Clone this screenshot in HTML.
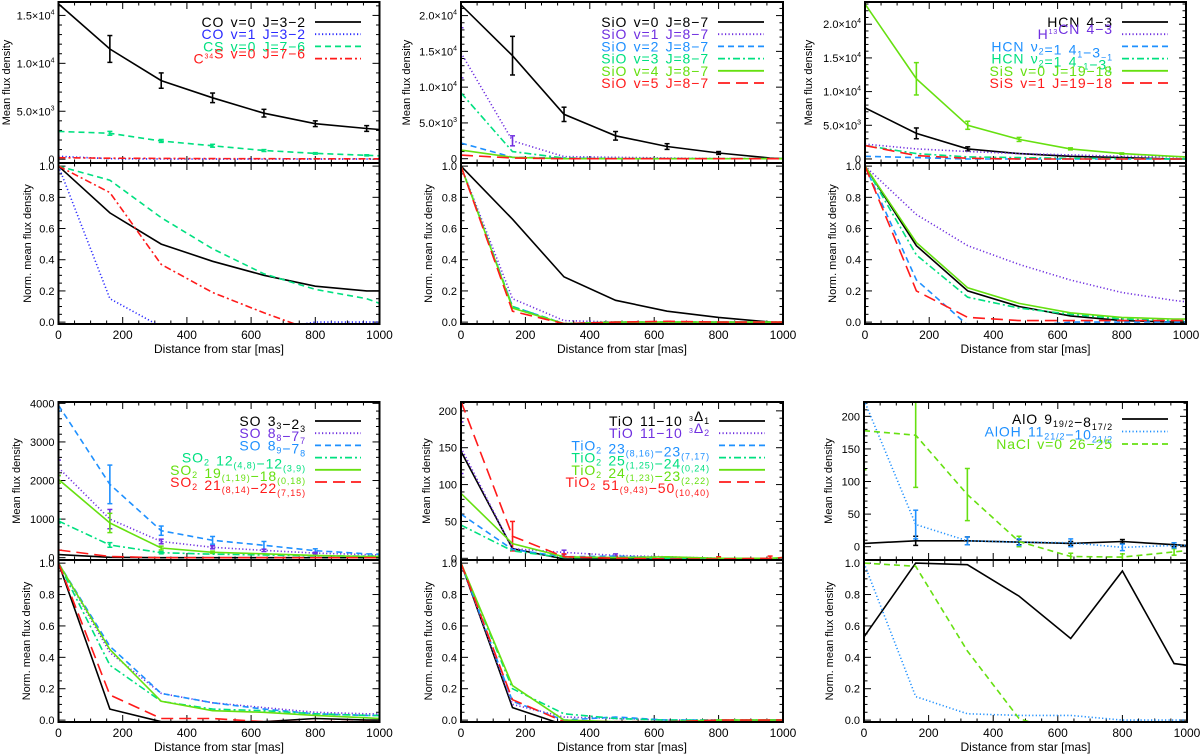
<!DOCTYPE html>
<html><head><meta charset="utf-8"><style>
html,body{margin:0;padding:0;background:#fff;}
svg{display:block;font-family:"Liberation Sans",sans-serif;}
.leg{letter-spacing:0.9px;word-spacing:1.5px;}
</style></head><body>
<svg id="fig" width="1200" height="754" viewBox="0 0 1200 754" xmlns="http://www.w3.org/2000/svg"></svg>
<script>
const xs = [0,160,320,480,640,800,960,1000];
// ---- Panel 1 (CO / CS) ----
const p1TopBlack=[16200,11500,8200,6400,4800,3700,3200,3100];
const p1TopBlackErr=[0,1400,800,500,400,300,300,0];
const p1TopBlue=[300,50,20,10,10,10,10,10];
const p1TopGreen=[2900,2700,1900,1400,900,600,400,350];
const p1TopGreenErr=[0,200,150,150,100,80,60,0];
const p1TopRed=[150,100,80,60,50,40,40,40];
const p1BotBlack=[1,0.7,0.5,0.39,0.3,0.23,0.2,0.2];
const p1BotBlue=[1,0.15,-0.03,-0.05,-0.05,0,0,0];
const p1BotGreen=[1,0.91,0.67,0.47,0.31,0.21,0.15,0.12];
const p1BotRed=[1,0.83,0.37,0.19,0.06,-0.06,-0.1,-0.1];
// ---- Panel 2 (SiO) ----
const p2TopBlack=[21500,14400,6200,3200,1700,800,100,0];
const p2TopBlackErr=[0,2700,1000,600,400,200,0,0];
const p2TopPurple=[14800,2500,300,200,100,0,0,0];
const p2TopPurpleErr=[3500,700,0,0,0,0,0,0];
const p2TopBlue=[2200,200,100,0,0,0,0,0];
const p2TopTeal=[9200,1000,100,0,0,0,0,0];
const p2TopGreen=[1200,200,0,0,0,0,0,0];
const p2TopRed=[500,100,0,0,0,0,0,0];
const p2BotBlack=[1,0.66,0.29,0.14,0.07,0.03,0.0,-0.01];
const p2BotPurple=[1,0.15,0.01,0,0,0,0,0];
const p2BotBlue=[1,0.1,-0.01,0,0,0,0,0];
const p2BotTeal=[1,0.1,-0.01,0,0,0,0,0];
const p2BotGreen=[1,0.09,-0.01,0,0,0,0,0];
const p2BotRed=[1,0.07,-0.01,0,0.005,0,0,0];
// ---- Panel 3 (HCN / SiS) ----
const p3TopBlack=[7600,3800,1500,800,400,200,0,0];
const p3TopBlackErr=[0,800,300,0,0,0,0,0];
const p3TopPurple=[2200,1500,1100,800,600,400,300,300];
const p3TopBlue=[400,200,0,0,0,0,0,0];
const p3TopTeal=[2000,800,300,200,100,50,0,0];
const p3TopGreen=[23000,11900,5000,2900,1500,800,400,300];
const p3TopGreenErr=[0,2400,600,300,150,100,0,0];
const p3TopRed=[2000,500,100,0,0,0,0,0];
const p3BotBlack=[1,0.49,0.2,0.1,0.04,0.01,0.0,0];
const p3BotPurple=[1,0.69,0.49,0.37,0.27,0.19,0.14,0.13];
const p3BotBlue=[1,0.27,-0.02,-0.03,0,0,0,0];
const p3BotTeal=[1,0.43,0.16,0.09,0.05,0.02,0.01,0.01];
const p3BotGreen=[1,0.51,0.22,0.12,0.06,0.03,0.02,0.02];
const p3BotRed=[1,0.2,0.03,0.01,0.01,0.01,0.01,0.01];
// ---- Panel 4 (SO / SO2) ----
const p4TopBlack=[80,10,0,0,0,0,0,0];
const p4TopPurple=[2330,1000,420,270,190,120,80,70];
const p4TopPurpleErr=[200,250,60,40,30,20,0,0];
const p4TopBlue=[3950,1900,700,450,320,180,100,90];
const p4TopBlueErr=[150,500,120,100,100,50,0,0];
const p4TopTeal=[950,330,130,90,70,50,40,40];
const p4TopTealErr=[50,60,30,0,0,0,0,0];
const p4TopGreen=[2030,900,250,140,100,60,30,30];
const p4TopGreenErr=[100,250,50,30,0,0,0,0];
const p4TopRed=[200,30,0,0,0,0,0,0];
const p4BotBlack=[1,0.07,-0.01,-0.01,-0.01,0.01,0,0];
const p4BotPurple=[1,0.43,0.17,0.11,0.08,0.05,0.04,0.04];
const p4BotBlue=[1,0.47,0.17,0.11,0.07,0.04,0.03,0.03];
const p4BotTeal=[1,0.35,0.12,0.07,0.06,0.04,0.03,0.03];
const p4BotGreen=[1,0.45,0.12,0.06,0.05,0.03,0.015,0.01];
const p4BotRed=[1,0.16,0.01,0.01,-0.01,-0.01,-0.01,-0.01];
// ---- Panel 5 (TiO / TiO2) ----
const p5TopBlack=[145,13,-1,-1,-1,-1,0,0];
const p5TopPurple=[150,13,8,4,2,0,0,0];
const p5TopPurpleErr=[35,0,3,2,0,0,0,0];
const p5TopBlue=[60,12,2,3,1,0,0,0];
const p5TopTeal=[45,10,1,1,0,0,0,0];
const p5TopGreen=[88,20,2,1,2,0,0,1];
const p5TopRed=[213,30,2,0,-1,-1,0,1];
const p5TopRedErr=[0,20,4,3,3,3,3,0];
const p5BotBlack=[1,0.08,-0.03,-0.03,-0.03,-0.03,0,0];
const p5BotPurple=[1,0.1,0.02,0.01,0,0,0,0];
const p5BotBlue=[1,0.12,0.0,0.02,0,0,0,0];
const p5BotTeal=[1,0.2,0.04,0.01,0,0,0,0];
const p5BotGreen=[1,0.22,0.0,-0.01,-0.01,0,0,0];
const p5BotRed=[1,0.13,-0.01,-0.01,-0.01,0,0,0];
// ---- Panel 6 (AlO / AlOH / NaCl) ----
const p6TopBlack=[5,9,9,7,5,8,3,2];
const p6TopBlackErr=[0,7,6,4,3,3,3,0];
const p6TopBlue=[225,34,9,7,6,-1,2,2];
const p6TopBlueErr=[0,22,6,5,6,5,4,0];
const p6TopGreen=[178,171,80,8,-15,-16,-8,-6];
const p6TopGreenErr=[60,80,40,8,5,5,5,0];
const p6BotBlack=[0.53,1.0,0.99,0.79,0.52,0.95,0.36,0.35];
const p6BotBlue=[1,0.15,0.04,0.03,0.03,0.0,0.0,0.0];
const p6BotGreen=[1,0.98,0.44,0.01,-0.1,-0.1,-0.1,-0.1];

const xTicks=[0,200,400,600,800,1000];
const normTicks=[0,0.2,0.4,0.6,0.8,1.0];

const C={k:'#000',b:'#2a2aff',p:'#7030e0',s:'#1e90ff',t:'#00e080',g:'#66e010',r:'#ff1a1a'};
const D={solid:'',dot:'1.2,2.3',dash:'6,4',dashdot:'7,3,2,3',long:'12,6'};
const NS='http://www.w3.org/2000/svg';
const svg=document.getElementById('fig');
function el(tag,attrs,parent){const e=document.createElementNS(NS,tag);for(const k in attrs)e.setAttribute(k,attrs[k]);(parent||svg).appendChild(e);return e;}

function axis(x0,x1,y0,y1,lo,hi){return {x:v=>x0+(v/1000)*(x1-x0),y:v=>y1-(v-lo)/(hi-lo)*(y1-y0),x0,x1,y0,y1};}

let clipN=0;
function frame(ax,g,yMajor,yMinorStep,yLo,yHi){
  const id='clip'+(clipN++);
  const cp=el('clipPath',{id},g);el('rect',{x:ax.x0,y:ax.y0,width:ax.x1-ax.x0,height:ax.y1-ax.y0},cp);
  for(let v=0;v<=1000;v+=50){
    const len=v%200===0?7:3.5,X=ax.x(v);
    el('line',{x1:X,y1:ax.y1,x2:X,y2:ax.y1-len,stroke:'#000','stroke-width':1},g);
    el('line',{x1:X,y1:ax.y0,x2:X,y2:ax.y0+len,stroke:'#000','stroke-width':1},g);
  }
  const start=Math.ceil(yLo/yMinorStep)*yMinorStep;
  for(let v=start;v<=yHi+1e-9;v+=yMinorStep){
    const major=yMajor.some(m=>Math.abs(m-v)<yMinorStep*0.01);
    const len=major?7:3.5,Y=ax.y(v);
    el('line',{x1:ax.x0,y1:Y,x2:ax.x0+len,y2:Y,stroke:'#000','stroke-width':1},g);
    el('line',{x1:ax.x1,y1:Y,x2:ax.x1-len,y2:Y,stroke:'#000','stroke-width':1},g);
  }
  return id;
}
function series(ax,g,clip,ys,col,dash,name){
  const pts=xs.map((x,i)=>ax.x(x).toFixed(1)+','+ax.y(ys[i]).toFixed(1)).join(' ');
  const pl=el('polyline',{points:pts,fill:'none',stroke:col,'stroke-width':1.6,'clip-path':'url(#'+clip+')'},g);
  if(D[dash])pl.setAttribute('stroke-dasharray',D[dash]);
  
  
}
function errs(ax,g,clip,ys,es,col,name){
  const eg=el('g',{'clip-path':'url(#'+clip+')'},g);
  
  
  xs.forEach((x,i)=>{if(!es[i])return;const X=ax.x(x),a=ax.y(ys[i]-es[i]),b=ax.y(ys[i]+es[i]);
    el('line',{x1:X,y1:a,x2:X,y2:b,stroke:col,'stroke-width':1.6},eg);
    el('line',{x1:X-2.5,y1:a,x2:X+2.5,y2:a,stroke:col,'stroke-width':1.5},eg);
    el('line',{x1:X-2.5,y1:b,x2:X+2.5,y2:b,stroke:col,'stroke-width':1.5},eg);});
}
function text(g,x,y,html,opts){
  const t=el('text',Object.assign({x,y,'font-size':11,fill:'#000'},opts||{}),g);t.innerHTML=html;return t;
}
const sup=s=>'<tspan dy="-5" font-size="7">'+s+'</tspan><tspan dy="5"></tspan>';
const sub=s=>'<tspan dy="3" font-size="9">'+s+'</tspan><tspan dy="-3"></tspan>';

function panel(name,geo,top,bot,legend){
  const g=el('g',{});
  
  
  const at=axis(geo.x0,geo.x1,geo.yt,geo.ym,top.lo,top.hi);
  const ab=axis(geo.x0,geo.x1,geo.ym,geo.yb,-0.012,1.02);
  const ct=frame(at,g,top.ticks,top.minor,top.lo,top.hi);
  const cb=frame(ab,g,normTicks,0.05,-0.012,1.02);
  top.errs.forEach(e=>errs(at,g,ct,e[0],e[1],e[2],'top-errorbars'));
  top.series.forEach(s=>series(at,g,ct,s[0],s[1],s[2],'top-line-'+s[3]));
  bot.forEach(s=>series(ab,g,cb,s[0],s[1],s[2],'norm-line-'+s[3]));
  el('rect',{x:geo.x0,y:geo.yt,width:geo.x1-geo.x0,height:geo.yb-geo.yt,fill:'none',stroke:'#000','stroke-width':2},g);
  el('line',{x1:geo.x0,y1:geo.ym,x2:geo.x1,y2:geo.ym,stroke:'#000','stroke-width':2},g);
  top.ticks.forEach((v,i)=>{const t=text(g,geo.x0-4,at.y(v)+4,top.labels[i],{'text-anchor':'end'});});
  normTicks.forEach(v=>{const t=text(g,geo.x0-4,ab.y(v)+4,v.toFixed(1),{'text-anchor':'end'});});
  xTicks.forEach(v=>{const t=text(g,ab.x(v),geo.xl,String(v),{'text-anchor':'middle','font-size':12});});
  const xt=text(g,(geo.x0+geo.x1)/2,geo.xl+14,'Distance from star [mas]',{'text-anchor':'middle','font-size':12});
  
  const ty=(geo.yt+geo.ym)/2,by=(geo.ym+geo.yb)/2;
  const y1=text(g,geo.ly1,ty,'Mean flux density',{'text-anchor':'middle','transform':'rotate(-90 '+geo.ly1+' '+ty+')','font-size':11});
  
  const y2=text(g,geo.ly2,by,'Norm. mean flux density',{'text-anchor':'middle','transform':'rotate(-90 '+geo.ly2+' '+by+')','font-size':11});
  
  legend.forEach((L,i)=>{
    const y=geo.legY+i*geo.legDy;
    const lg=el('g',{},g);
    
    
    text(lg,geo.legX,y+5,L[0],{'text-anchor':'end','font-size':14,fill:L[1],'class':'leg'});
    const ln=el('line',{x1:geo.legX+9,y1:y,x2:geo.legX+55,y2:y,stroke:L[1],'stroke-width':1.8},lg);
    if(D[L[2]])ln.setAttribute('stroke-dasharray',D[L[2]]);
  });
}
const e4=(a,b)=>a+'×10'+sup(b);
panel('panel-co-cs',{x0:58.5,x1:379.5,yt:2,ym:163,yb:324,xl:339,ly1:10,ly2:31,legX:306,legY:22,legDy:12.2},
 {lo:-400,hi:16400,ticks:[0,5000,10000,15000],labels:['0',e4('5.0','3'),e4('1.0','4'),e4('1.5','4')],minor:1000,
  errs:[[p1TopBlack,p1TopBlackErr,C.k],[p1TopGreen,p1TopGreenErr,C.t]],
  series:[[p1TopBlack,C.k,'solid','co-v0'],[p1TopBlue,C.b,'dot','co-v1'],[p1TopGreen,C.t,'dash','cs'],[p1TopRed,C.r,'dashdot','c34s']]},
 [[p1BotBlack,C.k,'solid','co-v0'],[p1BotBlue,C.b,'dot','co-v1'],[p1BotGreen,C.t,'dash','cs'],[p1BotRed,C.r,'dashdot','c34s']],
 [['CO v=0 J=3−2',C.k,'solid'],['CO v=1 J=3−2',C.b,'dot'],['CS v=0 J=7−6',C.t,'dash'],['C'+sup('34')+'S v=0 J=7−6',C.r,'dashdot']]);
panel('panel-sio',{x0:461,x1:783,yt:2,ym:163,yb:324,xl:339,ly1:410,ly2:432,legX:709,legY:22,legDy:12.2},
 {lo:-600,hi:21900,ticks:[0,5000,10000,15000,20000],labels:['0',e4('5.0','3'),e4('1.0','4'),e4('1.5','4'),e4('2.0','4')],minor:1000,
  errs:[[p2TopBlack,p2TopBlackErr,C.k],[p2TopPurple,p2TopPurpleErr,C.p]],
  series:[[p2TopBlack,C.k,'solid','sio-v0'],[p2TopPurple,C.p,'dot','sio-v1'],[p2TopBlue,C.s,'dash','sio-v2'],[p2TopTeal,C.t,'dashdot','sio-v3'],[p2TopGreen,C.g,'solid','sio-v4'],[p2TopRed,C.r,'long','sio-v5']]},
 [[p2BotBlack,C.k,'solid','sio-v0'],[p2BotPurple,C.p,'dot','sio-v1'],[p2BotBlue,C.s,'dash','sio-v2'],[p2BotTeal,C.t,'dashdot','sio-v3'],[p2BotGreen,C.g,'solid','sio-v4'],[p2BotRed,C.r,'long','sio-v5']],
 [['SiO v=0 J=8−7',C.k,'solid'],['SiO v=1 J=8−7',C.p,'dot'],['SiO v=2 J=8−7',C.s,'dash'],['SiO v=3 J=8−7',C.t,'dashdot'],['SiO v=4 J=8−7',C.g,'solid'],['SiO v=5 J=8−7',C.r,'long']]);
panel('panel-hcn-sis',{x0:865,x1:1186,yt:2,ym:163,yb:324,xl:339,ly1:812,ly2:836,legX:1113,legY:22,legDy:12.2},
 {lo:-600,hi:23300,ticks:[0,5000,10000,15000,20000],labels:['0',e4('5.0','3'),e4('1.0','4'),e4('1.5','4'),e4('2.0','4')],minor:1000,
  errs:[[p3TopBlack,p3TopBlackErr,C.k],[p3TopGreen,p3TopGreenErr,C.g]],
  series:[[p3TopBlack,C.k,'solid','hcn'],[p3TopPurple,C.p,'dot','h13cn'],[p3TopBlue,C.s,'dash','hcn-v2-a'],[p3TopTeal,C.t,'dashdot','hcn-v2-b'],[p3TopGreen,C.g,'solid','sis-v0'],[p3TopRed,C.r,'long','sis-v1']]},
 [[p3BotBlack,C.k,'solid','hcn'],[p3BotPurple,C.p,'dot','h13cn'],[p3BotBlue,C.s,'dash','hcn-v2-a'],[p3BotTeal,C.t,'dashdot','hcn-v2-b'],[p3BotGreen,C.g,'solid','sis-v0'],[p3BotRed,C.r,'long','sis-v1']],
 [['HCN 4−3',C.k,'solid'],['H'+sup('13')+'CN 4−3',C.p,'dot'],['HCN ν'+sub('2')+'=1 4'+sub('1')+'−3'+sub('−1'),C.s,'dash'],['HCN ν'+sub('2')+'=1 4'+sub('−1')+'−3'+sub('1'),C.t,'dashdot'],['SiS v=0 J=19−18',C.g,'solid'],['SiS v=1 J=19−18',C.r,'long']]);
panel('panel-so-so2',{x0:58.5,x1:379.5,yt:402,ym:560,yb:722,xl:737,ly1:20,ly2:30,legX:306,legY:421,legDy:12.2},
 {lo:-60,hi:4035,ticks:[0,1000,2000,3000,4000],labels:['0','1000','2000','3000','4000'],minor:200,
  errs:[[p4TopBlue,p4TopBlueErr,C.s],[p4TopPurple,p4TopPurpleErr,C.p],[p4TopGreen,p4TopGreenErr,C.g],[p4TopTeal,p4TopTealErr,C.t]],
  series:[[p4TopBlack,C.k,'solid','so-33'],[p4TopPurple,C.p,'dot','so-88'],[p4TopBlue,C.s,'dash','so-89'],[p4TopTeal,C.t,'dashdot','so2-12'],[p4TopGreen,C.g,'solid','so2-19'],[p4TopRed,C.r,'long','so2-21']]},
 [[p4BotBlack,C.k,'solid','so-33'],[p4BotPurple,C.p,'dot','so-88'],[p4BotBlue,C.s,'dash','so-89'],[p4BotTeal,C.t,'dashdot','so2-12'],[p4BotGreen,C.g,'solid','so2-19'],[p4BotRed,C.r,'long','so2-21']],
 [['SO 3'+sub('3')+'−2'+sub('3'),C.k,'solid'],['SO 8'+sub('8')+'−7'+sub('7'),C.p,'dot'],['SO 8'+sub('9')+'−7'+sub('8'),C.s,'dash'],['SO'+sub('2')+' 12'+sub('(4,8)')+'−12'+sub('(3,9)'),C.t,'dashdot'],['SO'+sub('2')+' 19'+sub('(1,19)')+'−18'+sub('(0,18)'),C.g,'solid'],['SO'+sub('2')+' 21'+sub('(8,14)')+'−22'+sub('(7,15)'),C.r,'long']]);
panel('panel-tio-tio2',{x0:461,x1:783,yt:402,ym:560,yb:722,xl:737,ly1:430,ly2:432,legX:710,legY:421,legDy:12.2},
 {lo:-2.3,hi:212,ticks:[0,50,100,150,200],labels:['0','50','100','150','200'],minor:10,
  errs:[[p5TopPurple,p5TopPurpleErr,C.p],[p5TopRed,p5TopRedErr,C.r]],
  series:[[p5TopBlack,C.k,'solid','tio-d1'],[p5TopPurple,C.p,'dot','tio-d2'],[p5TopBlue,C.s,'dash','tio2-23'],[p5TopTeal,C.t,'dashdot','tio2-25'],[p5TopGreen,C.g,'solid','tio2-24'],[p5TopRed,C.r,'long','tio2-51']]},
 [[p5BotBlack,C.k,'solid','tio-d1'],[p5BotPurple,C.p,'dot','tio-d2'],[p5BotBlue,C.s,'dash','tio2-23'],[p5BotTeal,C.t,'dashdot','tio2-25'],[p5BotGreen,C.g,'solid','tio2-24'],[p5BotRed,C.r,'long','tio2-51']],
 [['TiO 11−10 '+sup('3')+'Δ'+sub('1'),C.k,'solid'],['TiO 11−10 '+sup('3')+'Δ'+sub('2'),C.p,'dot'],['TiO'+sub('2')+' 23'+sub('(8,16)')+'−23'+sub('(7,17)'),C.s,'dash'],['TiO'+sub('2')+' 25'+sub('(1,25)')+'−24'+sub('(0,24)'),C.t,'dashdot'],['TiO'+sub('2')+' 24'+sub('(1,23)')+'−23'+sub('(2,22)'),C.g,'solid'],['TiO'+sub('2')+' 51'+sub('(9,43)')+'−50'+sub('(10,40)'),C.r,'long']]);
panel('panel-alo-aloh-nacl',{x0:864,x1:1187,yt:402,ym:560,yb:722,xl:737,ly1:832,ly2:833,legX:1113,legY:419,legDy:12.5},
 {lo:-20.4,hi:222,ticks:[0,50,100,150,200],labels:['0','50','100','150','200'],minor:10,
  errs:[[p6TopGreen,p6TopGreenErr,C.g],[p6TopBlack,p6TopBlackErr,C.k],[p6TopBlue,p6TopBlueErr,C.s]],
  series:[[p6TopBlack,C.k,'solid','alo'],[p6TopBlue,C.s,'dot','aloh'],[p6TopGreen,C.g,'dash','nacl']]},
 [[p6BotBlack,C.k,'solid','alo'],[p6BotBlue,C.s,'dot','aloh'],[p6BotGreen,C.g,'dash','nacl']],
 [['AlO 9'+sub('19/2')+'−8'+sub('17/2'),C.k,'solid'],['AlOH 11'+sub('21/2')+'−10'+sub('21/2'),C.s,'dot'],['NaCl v=0 26−25',C.g,'dash']]);
</script>
</body></html>
